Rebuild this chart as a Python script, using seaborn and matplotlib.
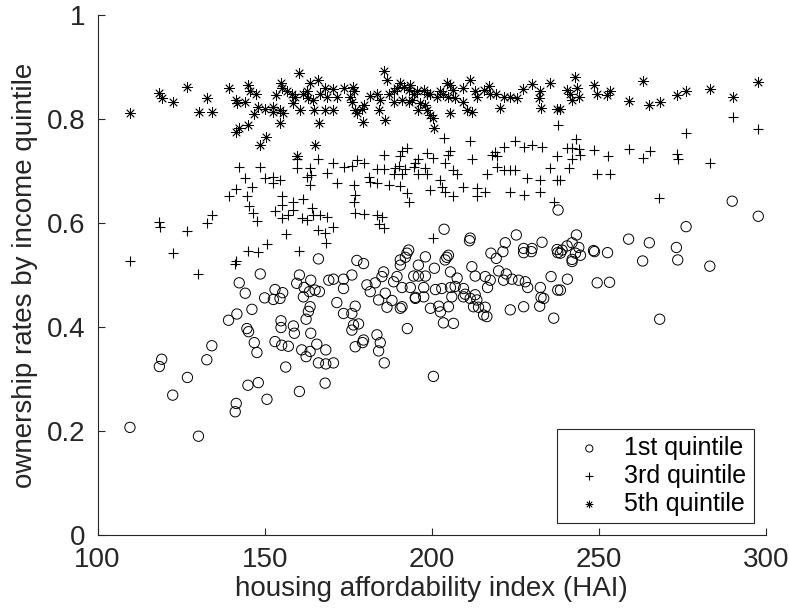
import numpy as np
import pandas as pd
import matplotlib
matplotlib.use("Agg")
import matplotlib.pyplot as plt
import seaborn as sns
from matplotlib.ticker import FuncFormatter


# -------------------------------------------------
# DATA
# -------------------------------------------------
q1_hai = [
    109.7, 130.2, 122.5, 126.9, 118.5, 119.2, 132.7, 134.2, 141.5, 141.2,
    145.0, 148.1, 150.7, 146.9, 147.7, 156.3, 160.4, 153.1, 155.1, 157.1,
    161.1, 162.4, 163.6, 165.6, 166.1, 168.3, 168.3, 168.1, 166.1, 148.7,
    160.4, 163.8, 159.6, 161.8, 163.4, 165.1, 166.4, 161.6, 169.2, 142.4,
    144.2, 146.2, 141.7, 139.2, 144.7, 145.2, 153.1, 155.4, 152.6, 154.6,
    150.0, 163.6, 163.1, 162.4, 154.9, 154.9, 158.6, 158.9, 163.8, 203.7,
    211.5, 211.3, 225.3, 222.0, 221.3, 217.7, 219.3, 227.5, 227.5, 230.0,
    229.8, 233.0, 237.5, 237.7, 237.8, 193.1, 192.6, 192.1, 190.6, 190.6,
    205.0, 204.5, 204.0, 198.1, 196.0, 200.8, 177.6, 179.6, 185.6, 185.1,
    183.1, 180.6, 181.6, 176.1, 173.6, 173.6, 170.6, 188.6, 189.6, 191.1,
    193.6, 194.6, 196.0, 198.1, 197.6, 197.6, 195.1, 201.1, 203.0, 205.6,
    207.6, 205.6, 207.0, 209.5, 210.0, 212.0, 213.0, 216.0, 217.5, 216.7,
    220.0, 222.3, 221.5, 224.0, 226.0, 228.0, 228.7, 232.5, 235.7, 237.7,
    171.6, 173.6, 176.1, 177.1, 176.6, 178.1, 176.1, 184.1, 186.1, 188.1,
    186.6, 190.6, 191.1, 195.1, 199.6, 202.1, 202.6, 205.0, 206.0, 203.5,
    206.5, 209.5, 211.5, 213.0, 213.5, 212.5, 214.0, 216.0, 215.5, 216.5,
    223.5, 227.5, 232.3, 233.5, 232.7, 236.5, 192.7, 183.6, 179.6, 177.1,
    179.3, 184.6, 184.1, 185.8, 170.6, 200.5, 297.7, 289.9, 276.1, 258.9,
    265.1, 273.2, 273.6, 263.1, 283.2, 268.2, 243.3, 242.0, 240.5, 239.0,
    238.5, 244.0, 243.0, 244.5, 242.0, 242.0, 248.4, 248.7, 252.6, 240.6,
    238.5, 249.5, 253.2,
]
q1_rate = [
    0.207, 0.190, 0.269, 0.303, 0.324, 0.338, 0.337, 0.364, 0.253, 0.237,
    0.288, 0.293, 0.261, 0.370, 0.351, 0.323, 0.276, 0.372, 0.365, 0.363,
    0.356, 0.343, 0.353, 0.367, 0.331, 0.329, 0.356, 0.292, 0.531, 0.502,
    0.500, 0.490, 0.484, 0.476, 0.468, 0.471, 0.468, 0.458, 0.490, 0.485,
    0.465, 0.434, 0.425, 0.413, 0.397, 0.391, 0.472, 0.466, 0.453, 0.455,
    0.456, 0.439, 0.430, 0.415, 0.412, 0.399, 0.402, 0.388, 0.388, 0.588,
    0.571, 0.566, 0.577, 0.562, 0.545, 0.542, 0.532, 0.551, 0.543, 0.551,
    0.545, 0.563, 0.549, 0.543, 0.625, 0.548, 0.542, 0.534, 0.529, 0.519,
    0.538, 0.534, 0.529, 0.535, 0.519, 0.513, 0.528, 0.522, 0.506, 0.497,
    0.485, 0.481, 0.468, 0.500, 0.492, 0.474, 0.492, 0.487, 0.497, 0.476,
    0.476, 0.498, 0.498, 0.498, 0.476, 0.458, 0.457, 0.472, 0.474, 0.506,
    0.494, 0.476, 0.478, 0.474, 0.463, 0.516, 0.498, 0.497, 0.490, 0.476,
    0.508, 0.502, 0.490, 0.492, 0.490, 0.487, 0.476, 0.476, 0.497, 0.471,
    0.447, 0.426, 0.426, 0.440, 0.404, 0.406, 0.394, 0.452, 0.465, 0.451,
    0.438, 0.436, 0.439, 0.455, 0.436, 0.440, 0.429, 0.439, 0.458, 0.408,
    0.407, 0.458, 0.455, 0.462, 0.452, 0.439, 0.438, 0.438, 0.423, 0.420,
    0.433, 0.439, 0.440, 0.455, 0.457, 0.417, 0.397, 0.385, 0.375, 0.362,
    0.370, 0.370, 0.354, 0.331, 0.331, 0.305, 0.613, 0.642, 0.593, 0.569,
    0.562, 0.553, 0.529, 0.527, 0.517, 0.415, 0.577, 0.562, 0.556, 0.548,
    0.542, 0.553, 0.542, 0.538, 0.530, 0.526, 0.547, 0.545, 0.543, 0.492,
    0.471, 0.485, 0.486,
]

q3_hai = [
    109.7, 118.5, 118.7, 122.5, 126.9, 130.2, 132.7, 134.2, 141.5, 141.2,
    145.1, 148.1, 150.7, 156.4, 160.4, 145.4, 146.6, 147.8, 153.1, 155.1,
    155.1, 157.1, 158.6, 158.6, 161.1, 162.6, 164.1, 164.6, 166.6, 168.6,
    166.1, 168.1, 168.4, 142.2, 148.7, 144.2, 146.2, 141.5, 139.2, 144.7,
    150.0, 152.6, 154.6, 152.6, 155.1, 159.6, 159.8, 163.6, 163.8, 166.1,
    168.6, 162.6, 163.6, 161.6, 177.1, 179.6, 183.6, 185.1, 184.1, 185.8,
    170.6, 200.5, 176.6, 193.1, 236.5, 203.8, 211.5, 225.0, 227.6, 230.0,
    233.0, 221.5, 219.0, 218.0, 219.5, 237.5, 237.7, 192.6, 191.1, 190.6,
    185.6, 196.0, 198.6, 200.5, 205.0, 205.6, 212.0, 204.0, 206.5, 207.6,
    170.6, 173.6, 176.1, 177.6, 179.6, 183.6, 185.6, 189.1, 190.1, 194.6,
    195.1, 198.1, 198.6, 196.0, 191.1, 188.6, 192.1, 216.5, 219.5, 221.5,
    223.5, 225.0, 228.5, 232.5, 235.5, 237.5, 202.5, 209.5, 213.5, 216.0,
    203.0, 204.0, 199.6, 171.6, 176.6, 177.1, 181.1, 181.6, 183.6, 187.1,
    190.6, 192.6, 223.5, 227.5, 232.5, 206.5, 213.5, 290.0, 297.7, 276.2,
    243.3, 240.5, 242.0, 244.0, 244.5, 242.0, 248.4, 252.6, 258.9, 263.1,
    265.2, 273.4, 273.6, 283.2, 241.0, 249.5, 253.4, 238.5, 268.0,
]
q3_rate = [
    0.527, 0.601, 0.592, 0.543, 0.585, 0.502, 0.600, 0.615, 0.526, 0.522,
    0.547, 0.545, 0.560, 0.579, 0.547, 0.633, 0.619, 0.603, 0.623, 0.635,
    0.609, 0.615, 0.625, 0.641, 0.609, 0.606, 0.628, 0.615, 0.615, 0.612,
    0.587, 0.580, 0.561, 0.707, 0.708, 0.686, 0.670, 0.665, 0.652, 0.651,
    0.686, 0.689, 0.683, 0.676, 0.651, 0.724, 0.705, 0.705, 0.692, 0.724,
    0.697, 0.689, 0.673, 0.647, 0.619, 0.617, 0.615, 0.612, 0.598, 0.590,
    0.593, 0.571, 0.641, 0.641, 0.641, 0.763, 0.758, 0.758, 0.747, 0.750,
    0.746, 0.747, 0.737, 0.731, 0.728, 0.728, 0.788, 0.744, 0.739, 0.728,
    0.730, 0.723, 0.734, 0.726, 0.731, 0.739, 0.723, 0.716, 0.702, 0.695,
    0.715, 0.708, 0.710, 0.722, 0.715, 0.703, 0.703, 0.705, 0.710, 0.707,
    0.715, 0.705, 0.695, 0.695, 0.695, 0.695, 0.703, 0.695, 0.708, 0.702,
    0.702, 0.702, 0.686, 0.683, 0.705, 0.683, 0.683, 0.670, 0.667, 0.660,
    0.670, 0.660, 0.663, 0.676, 0.673, 0.654, 0.689, 0.679, 0.677, 0.673,
    0.671, 0.657, 0.660, 0.654, 0.660, 0.651, 0.651, 0.803, 0.780, 0.773,
    0.761, 0.744, 0.744, 0.742, 0.731, 0.724, 0.740, 0.729, 0.742, 0.726,
    0.739, 0.733, 0.723, 0.716, 0.705, 0.694, 0.694, 0.683, 0.648,
]

q5_hai = [
    109.7, 118.5, 119.2, 122.5, 126.9, 132.7, 130.3, 134.2, 139.2, 141.4,
    141.7, 144.2, 144.9, 145.7, 147.5, 148.1, 146.9, 150.1, 152.6, 152.6,
    154.6, 155.4, 153.4, 154.9, 155.1, 160.4, 156.6, 158.1, 159.1, 158.6,
    160.6, 161.6, 162.6, 163.1, 163.6, 164.6, 166.1, 166.6, 168.1, 168.6,
    168.2, 164.9, 141.5, 142.2, 145.0, 150.4, 148.7, 154.6, 166.3, 165.1,
    159.8, 185.8, 186.6, 170.6, 173.6, 176.4, 176.6, 175.6, 176.1, 171.6,
    170.6, 177.1, 177.6, 179.1, 179.6, 179.4, 185.9, 181.6, 183.6, 184.6,
    184.1, 187.1, 188.6, 189.6, 190.6, 191.6, 193.1, 193.6, 194.6, 188.6,
    191.1, 193.1, 194.1, 195.6, 197.6, 198.6, 196.6, 198.1, 195.9, 198.6,
    199.6, 200.5, 200.8, 199.6, 201.6, 202.5, 203.5, 204.6, 205.6, 206.5,
    205.0, 207.0, 205.5, 209.5, 211.5, 209.5, 210.5, 212.0, 213.0, 213.5,
    215.5, 217.0, 217.5, 219.3, 220.5, 221.5, 223.5, 225.5, 227.3, 230.0,
    232.5, 232.0, 232.7, 235.5, 237.5, 243.0, 240.5, 241.5, 242.0, 243.5,
    244.0, 248.4, 249.5, 252.5, 253.2, 238.5, 258.9, 263.1, 265.1, 268.2,
    273.4, 276.2, 283.2, 290.0, 297.7,
]
q5_rate = [
    0.811, 0.851, 0.840, 0.833, 0.861, 0.841, 0.814, 0.814, 0.859, 0.837,
    0.830, 0.832, 0.865, 0.853, 0.848, 0.824, 0.810, 0.819, 0.824, 0.814,
    0.817, 0.811, 0.847, 0.870, 0.859, 0.888, 0.853, 0.849, 0.843, 0.830,
    0.817, 0.849, 0.853, 0.840, 0.869, 0.837, 0.875, 0.849, 0.859, 0.843,
    0.817, 0.817, 0.776, 0.782, 0.788, 0.766, 0.750, 0.792, 0.792, 0.750,
    0.729, 0.892, 0.875, 0.858, 0.859, 0.862, 0.853, 0.843, 0.833, 0.843,
    0.817, 0.817, 0.811, 0.820, 0.827, 0.794, 0.798, 0.844, 0.849, 0.837,
    0.817, 0.849, 0.853, 0.859, 0.869, 0.862, 0.856, 0.865, 0.849, 0.833,
    0.837, 0.833, 0.837, 0.853, 0.856, 0.849, 0.830, 0.827, 0.817, 0.817,
    0.808, 0.802, 0.782, 0.849, 0.843, 0.853, 0.849, 0.869, 0.865, 0.856,
    0.843, 0.840, 0.811, 0.859, 0.875, 0.833, 0.817, 0.814, 0.853, 0.843,
    0.856, 0.863, 0.849, 0.848, 0.821, 0.843, 0.843, 0.840, 0.857, 0.867,
    0.853, 0.840, 0.821, 0.869, 0.819, 0.880, 0.856, 0.849, 0.837, 0.859,
    0.843, 0.865, 0.849, 0.846, 0.854, 0.819, 0.835, 0.874, 0.827, 0.832,
    0.846, 0.854, 0.857, 0.842, 0.871,
]

series_labels = ["1st quintile", "3rd quintile", "5th quintile"]
x_ticks = [100, 150, 200, 250, 300]
y_ticks = [0, 0.2, 0.4, 0.6, 0.8, 1]


# -------------------------------------------------
# STYLE
# -------------------------------------------------
sns.set_style("ticks")
plt.rcParams["font.family"] = ["Liberation Sans", "DejaVu Sans"]
GREY = "#262626"

fig = plt.figure(figsize=(7.89, 6.16), dpi=100)
ax = fig.add_axes([0.1236, 0.1315, 0.8472, 0.8441])

# asterisk like the MATLAB '*' marker
star = (8, 2, 0)

sns.scatterplot(x=q1_hai, y=q1_rate, ax=ax, marker="o", s=55,
                facecolor="none", edgecolor="black", linewidth=0.7,
                label=series_labels[0])
sns.scatterplot(x=q3_hai, y=q3_rate, ax=ax, marker="+", s=60,
                color="black", linewidth=0.8, label=series_labels[1])
sns.scatterplot(x=q5_hai, y=q5_rate, ax=ax, marker=star, s=50,
                color="black", edgecolor="black", linewidth=0.6,
                label=series_labels[2])

ax.set_xlim(100, 300)
ax.set_ylim(0, 1)
ax.set_xticks(x_ticks)
ax.set_yticks(y_ticks)
ax.yaxis.set_major_formatter(FuncFormatter(lambda v, p: f"{v:g}"))
ax.tick_params(direction="in", length=5, width=0.8, colors=GREY,
               labelsize=20, pad=9)

sns.despine(ax=ax)
for side in ["left", "bottom"]:
    ax.spines[side].set_color(GREY)
    ax.spines[side].set_linewidth(0.8)

ax.set_xlabel("housing affordability index (HAI)", fontsize=20,
              color=GREY, labelpad=2)
ax.set_ylabel("ownership rates by income quintile", fontsize=20,
              color=GREY, labelpad=6)

leg = ax.legend(loc="lower right", bbox_to_anchor=(0.982, 0.023),
                borderaxespad=0, fontsize=18, frameon=True, fancybox=False,
                framealpha=1, edgecolor=GREY, markerscale=0.7,
                handletextpad=0.4, borderpad=0.3, labelspacing=0.15,
                handlelength=2.0)
leg.get_frame().set_linewidth(0.8)
for t in leg.get_texts():
    t.set_color("black")

fig.savefig("out.png", dpi=100)
